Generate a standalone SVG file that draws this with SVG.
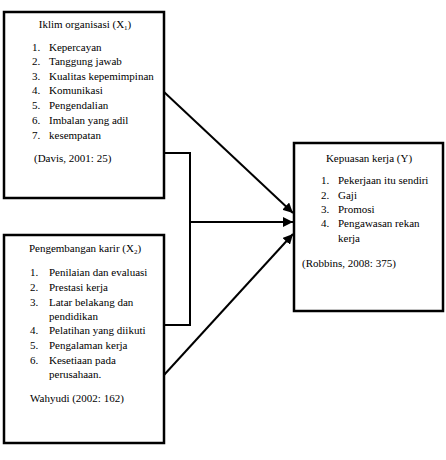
<svg xmlns="http://www.w3.org/2000/svg" width="446" height="460" viewBox="0 0 446 460">
<style>
.box{fill:#fff;stroke:#000;stroke-width:2.5}
text{font-family:"Liberation Serif","Times New Roman",serif;font-size:11px;fill:#000}
.c{stroke:#000;stroke-width:2;fill:none}
</style>
<defs>
<marker id="ah" viewBox="0 0 10 10" refX="10" refY="5" markerWidth="5" markerHeight="5" orient="auto" markerUnits="strokeWidth">
<path d="M0,0 L10,5 L0,10 z" fill="#000"/>
</marker>
</defs>
<rect width="446" height="460" fill="#fff"/>
<g id="connectors">
<path class="c" d="M164,153 H190 V325 H164"/>
<line class="c" x1="190" y1="222" x2="293" y2="222" marker-end="url(#ah)"/>
<line class="c" x1="164" y1="92" x2="293" y2="213" marker-end="url(#ah)"/>
<line class="c" x1="164" y1="375" x2="293" y2="234" marker-end="url(#ah)"/>
</g>
<g id="x1">
<rect class="box" x="4" y="12" width="160" height="186"/>
<text x="85" y="28" text-anchor="middle">Iklim organisasi (X<tspan font-size="7" dy="2">1</tspan><tspan dy="-2">)</tspan></text>
<text x="32" y="51">1.</text><text x="49" y="51">Kepercayan</text>
<text x="32" y="65">2.</text><text x="49" y="65">Tanggung jawab</text>
<text x="32" y="80">3.</text><text x="49" y="80">Kualitas kepemimpinan</text>
<text x="32" y="94">4.</text><text x="49" y="94">Komunikasi</text>
<text x="32" y="109">5.</text><text x="49" y="109">Pengendalian</text>
<text x="32" y="124">6.</text><text x="49" y="124">Imbalan yang adil</text>
<text x="32" y="139">7.</text><text x="49" y="139">kesempatan</text>
<text x="34" y="162">(Davis, 2001: 25)</text>
</g>
<g id="x2">
<rect class="box" x="4" y="235" width="160" height="208"/>
<text x="85" y="252" text-anchor="middle">Pengembangan karir (X<tspan font-size="7" dy="2">2</tspan><tspan dy="-2">)</tspan></text>
<text x="30" y="276">1.</text><text x="49" y="276">Penilaian dan evaluasi</text>
<text x="30" y="291">2.</text><text x="49" y="291">Prestasi kerja</text>
<text x="30" y="306">3.</text><text x="49" y="306">Latar belakang dan</text>
<text x="49" y="320">pendidikan</text>
<text x="30" y="334">4.</text><text x="49" y="334">Pelatihan yang diikuti</text>
<text x="30" y="349">5.</text><text x="49" y="349">Pengalaman kerja</text>
<text x="30" y="364">6.</text><text x="49" y="364">Kesetiaan pada</text>
<text x="49" y="378">perusahaan.</text>
<text x="30" y="402">Wahyudi (2002: 162)</text>
</g>
<g id="y">
<rect class="box" x="294" y="143" width="149" height="168"/>
<text x="369" y="162" text-anchor="middle">Kepuasan kerja (Y)</text>
<text x="321" y="184">1.</text><text x="338" y="184">Pekerjaan itu sendiri</text>
<text x="321" y="199">2.</text><text x="338" y="199">Gaji</text>
<text x="321" y="213">3.</text><text x="338" y="213">Promosi</text>
<text x="321" y="227">4.</text><text x="338" y="227">Pengawasan rekan</text>
<text x="338" y="242">kerja</text>
<text x="302" y="267">(Robbins, 2008: 375)</text>
</g>
</svg>
